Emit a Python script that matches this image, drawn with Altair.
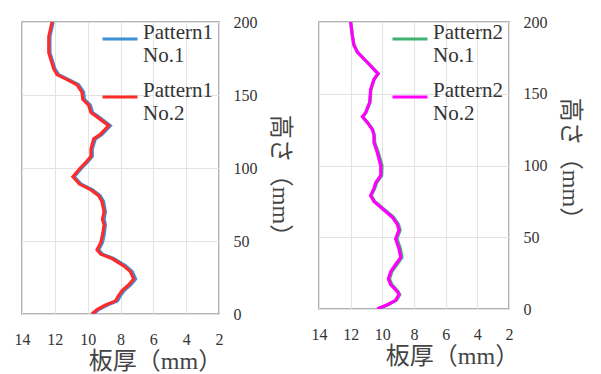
import altair as alt
import pandas as pd

# ---------------- data ----------------
# Pattern1: height (mm) and plate thickness (mm)
p1_height = [0, 3, 6, 9, 13, 16, 20, 24, 29, 33, 38, 41, 44, 49, 54, 61, 65, 70, 77, 81,
             85, 89, 94, 100, 104, 108, 113, 120, 123, 129, 135, 138, 143, 147, 152, 157,
             160, 164, 168, 179, 190, 200]
p1_no1 = [9.66, 9.33, 8.82, 8.18, 7.98, 7.78, 7.38, 7.08, 7.28, 7.69, 8.42, 9.10, 9.33, 9.10,
          9.00, 8.92, 9.00, 8.92, 9.03, 9.23, 9.70, 10.40, 10.82, 10.36, 10.02, 9.72, 9.72,
          9.53, 9.13, 8.62, 9.33, 9.70, 9.84, 10.20, 10.25, 10.55, 11.06, 11.77, 12.00,
          12.30, 12.30, 12.10]
p1_no2 = [9.74, 9.43, 8.94, 8.30, 8.10, 7.90, 7.50, 7.20, 7.40, 7.81, 8.52, 9.20, 9.43, 9.20,
          9.10, 9.00, 9.10, 9.00, 9.13, 9.33, 9.80, 10.50, 10.90, 10.45, 10.10, 9.80, 9.80,
          9.63, 9.23, 8.72, 9.43, 9.80, 9.94, 10.30, 10.35, 10.65, 11.16, 11.87, 12.07,
          12.37, 12.37, 12.17]

# Pattern2
p2_height = [0, 3, 6, 10, 12, 17, 21, 26, 31, 36, 42, 49, 55, 59, 64, 69, 75, 79, 84, 88,
             93, 100, 109, 116, 121, 125, 130, 134, 137, 144, 153, 160, 164, 167, 173, 179,
             184, 191, 200]
p2_no1 = [10.30, 9.66, 9.12, 8.90, 9.00, 9.40, 9.55, 9.40, 9.08, 8.76, 8.86, 9.08, 8.88,
          8.98, 9.30, 9.84, 10.48, 10.70, 10.48, 10.36, 10.04, 10.02, 10.26, 10.48, 10.50,
          10.60, 10.93, 11.24, 11.03, 10.78, 10.72, 10.52, 10.26, 10.52, 11.04, 11.57,
          11.79, 11.90, 12.00]
p2_no2 = [10.32, 9.68, 9.16, 8.95, 9.05, 9.47, 9.62, 9.47, 9.16, 8.84, 8.95, 9.16, 8.95,
          9.05, 9.37, 9.90, 10.53, 10.74, 10.53, 10.42, 10.10, 10.10, 10.32, 10.53, 10.53,
          10.63, 10.95, 11.26, 11.05, 10.80, 10.74, 10.53, 10.27, 10.53, 11.05, 11.58,
          11.80, 11.90, 12.00]

series1 = ["Pattern1 No.1", "Pattern1 No.2"]
series2 = ["Pattern2 No.1", "Pattern2 No.2"]
colors1 = ["#3d8fd6", "#ff2a2a"]
colors2 = ["#3cb371", "#ff00ff"]

x_ticks = [14, 12, 10, 8, 6, 4, 2]
y_ticks = [0, 50, 100, 150, 200]

SERIF = "Liberation Serif, Noto Sans CJK JP"


def make_df(height, a, b, names):
    rows = []
    for h, v in zip(height, a):
        rows.append({"s": names[0], "h": h, "t": v})
    for h, v in zip(height, b):
        rows.append({"s": names[1], "h": h, "t": v})
    return pd.DataFrame(rows)


def panel(df, names, colors, w, h, lx, ly_title):
    return alt.Chart(df).mark_line(strokeWidth=3.2, clip=True).encode(
        x=alt.X("t:Q",
                scale=alt.Scale(domain=[14, 2], nice=False),
                axis=alt.Axis(values=x_ticks, title="板厚（mm）", labelFlush=False,
                              ticks=False, tickSize=0, labelPadding=17, titlePadding=2,
                              titleX=133, domain=False)),
        y=alt.Y("h:Q",
                scale=alt.Scale(domain=[0, 200], nice=False),
                axis=alt.Axis(orient="right", values=y_ticks, title="高さ（mm）",
                              ticks=False, tickSize=0, labelPadding=14, titlePadding=10,
                              titleY=ly_title, domain=False)),
        color=alt.Color("s:N",
                        scale=alt.Scale(domain=names, range=colors),
                        sort=names,
                        legend=alt.Legend(title=None, orient="none", legendX=lx, legendY=-2,
                                          symbolType="stroke", symbolSize=1225,
                                          symbolStrokeWidth=3, labelFontSize=21,
                                          labelFont=SERIF, labelColor="#333333",
                                          labelLimit=300, labelOffset=4, rowPadding=12,
                                          padding=0, labelBaseline="alphabetic",
                                          labelExpr="split(datum.label, ' ')")),
        order=alt.Order("h:Q"),
    ).properties(width=w, height=h)


left = panel(make_df(p1_height, p1_no1, p1_no2, series1), series1, colors1, 197, 292, 79, 159)
right = panel(make_df(p2_height, p2_no1, p2_no2, series2), series2, colors2, 190, 287, 72, 142)

chart = alt.hconcat(left, right, spacing=18).resolve_scale(color="independent").properties(
    padding={"left": 5, "top": 5, "right": 5, "bottom": 5},
    background="white",
).configure_view(
    stroke="#999999", strokeWidth=1.5
).configure_axis(
    gridColor="#e3e3e3", gridWidth=1,
    labelFont=SERIF, labelFontSize=16, labelColor="#333333",
    titleFont=SERIF, titleFontSize=24, titleFontWeight="normal", titleColor="#444444",
)

chart.save("out.html", embed_options={"renderer": "svg", "actions": False})
